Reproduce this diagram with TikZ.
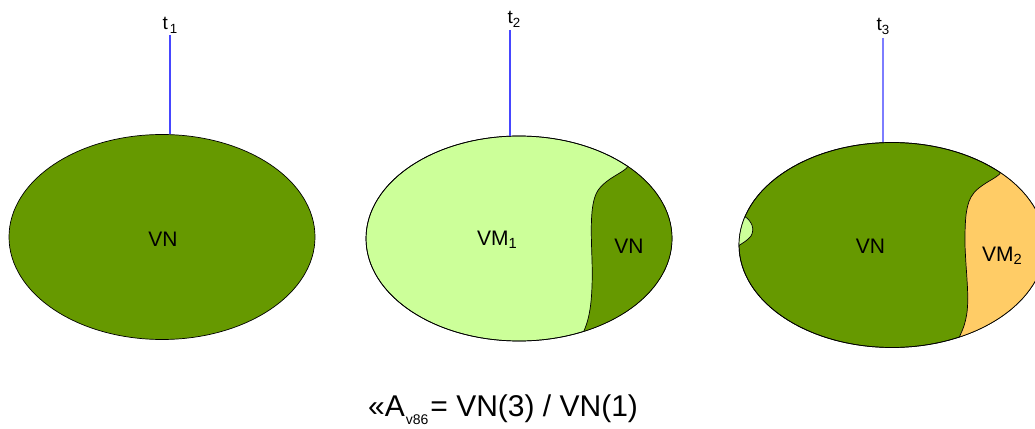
\documentclass[tikz,border=0pt]{standalone}
\usepackage{fontspec}
\setmainfont{Liberation Sans}
\usetikzlibrary{shapes.geometric}
\definecolor{vngreen}{RGB}{102,153,0}
\definecolor{vmlight}{RGB}{204,255,153}
\definecolor{vmorange}{RGB}{255,204,102}
\definecolor{lineblue}{RGB}{70,70,255}
\definecolor{lineblueb}{RGB}{125,125,255}
\begin{document}
\begin{tikzpicture}[x=1pt,y=-1pt,
  blob/.style={ellipse, draw=black, line width=0.7pt, inner sep=0pt, minimum width=306pt, minimum height=205pt},
  lab/.style={font=\fontsize{21}{21}\selectfont, anchor=base, inner sep=0pt},
  labw/.style={font=\fontsize{21}{21}\selectfont, anchor=base west, inner sep=0pt},
  tlab/.style={font=\fontsize{19}{19}\selectfont, anchor=base west, inner sep=0pt},
  timeline/.style={draw=lineblue, line width=1.1pt},
  border/.style={draw=black, line width=0.7pt}]
\useasboundingbox (0,0) rectangle (1035,428);

% ellipses
\node[blob, fill=vngreen] (e1) at (162,237) {};
\node[blob, fill=vmlight] (e2) at (519,238.5) {};
\node[blob, fill=vngreen] (e3) at (892,245) {};

% regions in ellipse 2
\begin{scope}
  \clip (e2.center) ellipse [x radius=153pt, y radius=102.5pt];
  \fill[vngreen] (628,166) .. controls (626,172) and (605,178) .. (597,192)
     .. controls (590,205) and (591,230) .. (592,260)
     .. controls (593,300) and (590,318) .. (583,333) -- (700,345) -- (700,150) -- cycle;
  \draw[border] (628,166) .. controls (626,172) and (605,178) .. (597,192)
     .. controls (590,205) and (591,230) .. (592,260)
     .. controls (593,300) and (590,318) .. (583,333);
\end{scope}
\draw[border] (e2.center) ellipse [x radius=153pt, y radius=102.5pt];

% regions in ellipse 3
\begin{scope}
  \clip (e3.center) ellipse [x radius=153pt, y radius=102.5pt];
  \fill[vmorange] (1001,172) .. controls (999,178) and (978,184) .. (971,197)
     .. controls (965,208) and (965,225) .. (965,245)
     .. controls (966,275) and (970,300) .. (966,318)
     .. controls (964,328) and (961,333) .. (958,340) -- (1060,345) -- (1060,150) -- cycle;
  \draw[border] (1001,172) .. controls (999,178) and (978,184) .. (971,197)
     .. controls (965,208) and (965,225) .. (965,245)
     .. controls (966,275) and (970,300) .. (966,318)
     .. controls (964,328) and (961,333) .. (958,340);
  \fill[vmlight] (744,216) .. controls (752,221) and (755,229) .. (751,236)
     .. controls (748,240) and (743,243) .. (738,246) -- (720,246) -- (720,216) -- cycle;
  \draw[border] (744,216) .. controls (752,221) and (755,229) .. (751,236)
     .. controls (748,240) and (743,243) .. (738,246);
\end{scope}
\draw[border] (e3.center) ellipse [x radius=153pt, y radius=102.5pt];

% labels in ellipses
\node[lab] (vn1) at (163,246) {VN};
\node[labw] (vm1) at (477,245) {VM\textsubscript{1}};
\node[lab] (vn2) at (629,253) {VN};
\node[lab] (vn3) at (870.5,253) {VN};
\node[labw] (vm2) at (982,261) {VM\textsubscript{2}};

% time labels and lines
\node[tlab] (t1) at (162.5,30) {t\kern2pt\textsubscript{1}};
\node[tlab] (t2) at (507.5,24) {t\textsubscript{2}};
\node[tlab] (t3) at (876.5,31) {t\textsubscript{3}};
\coordinate (l1) at (170,35);
\coordinate (l2) at (510,30);
\coordinate (l3) at (883,38);
\path[timeline] (l1) -- (l1 |- e1.north);
\path[timeline] (l2) -- (l2 |- e2.north);
\path[timeline, draw=lineblueb] (l3) -- (l3 |- e3.north);

% formula
\node[anchor=base west, inner sep=0pt, font=\fontsize{30}{30}\selectfont] (formula) at (368,416)
  {«A\kern1pt\raisebox{-8.5pt}{\fontsize{14}{14}\selectfont v86}\kern2pt= VN(3) / VN(1)};
\end{tikzpicture}
\end{document}
